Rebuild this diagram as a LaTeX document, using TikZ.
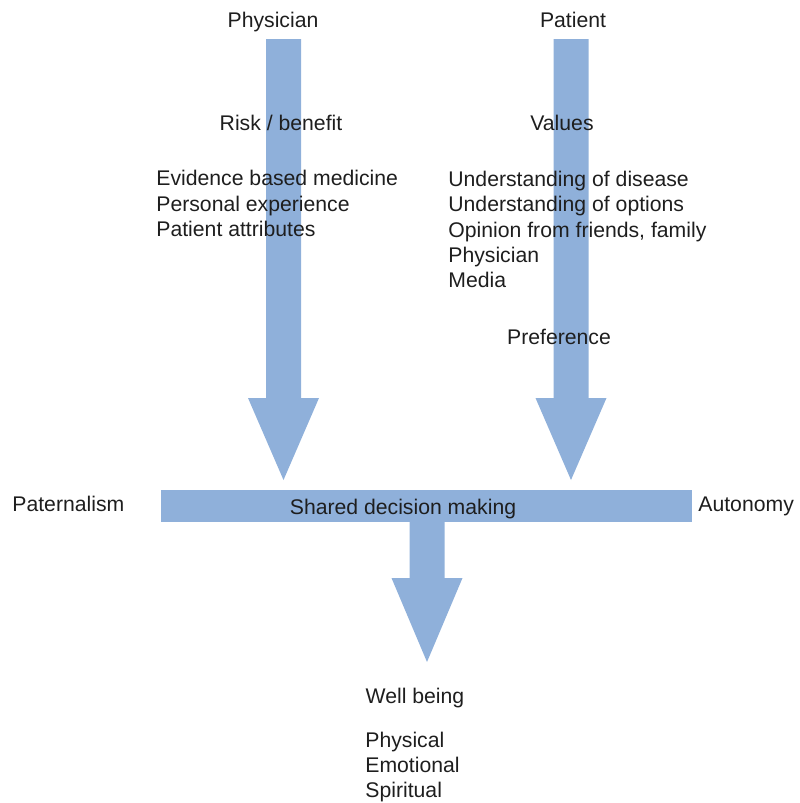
\documentclass[tikz,border=0pt]{standalone}
\usepackage{fontspec}
\setmainfont{Liberation Sans}
\definecolor{arrowblue}{RGB}{143,176,218}
\definecolor{inkgrey}{RGB}{30,30,30}
% block arrow pointing down: centre x, top, head base, tip
\newcommand{\flowarrow}[4]{%
  \fill[flow] (#1-17.5,#2) -- (#1+17.5,#2) -- (#1+17.5,#3) -- (#1+35.5,#3)
    -- (#1,#4) -- (#1-35.5,#3) -- (#1-17.5,#3) -- cycle;}

\begin{document}
\begin{tikzpicture}[x=0.5pt,y=-0.5pt,
	every node/.style={font=\fontsize{10.6}{12.7}\selectfont,text=inkgrey,inner sep=0pt},
	flow/.style={fill=arrowblue,draw=none},
	list/.style={align=left,anchor=west}]
\useasboundingbox (0,0) rectangle (799,803);

	% arrows
	\flowarrow{283.5}{39}{398}{480}
	\flowarrow{571}{39}{398}{480}
	\fill[flow] (161,490) rectangle (692,521.5);
	\flowarrow{427}{515}{578}{662}

	% physician side
	\node (physician) at (273,22) {Physician};
	\node (risk) at (281,123) {Risk / benefit};
	\node [list] (evidence) at (156,203.5) {Evidence based medicine\\Personal experience\\Patient attributes};

	% patient side
	\node (patient) at (573,20) {Patient};
	\node (values) at (562,123) {Values};
	\node [list] (understanding) at (448,229.5) {Understanding of disease\\Understanding of options\\Opinion from friends, family\\Physician\\Media};
	\node (preference) at (559,337) {Preference};

	% decision bar
	\node [anchor=west] (paternalism) at (12,504) {Paternalism};
	\node (shared) at (403,509) {Shared decision making};
	\node [anchor=west] (autonomy) at (698,506) {Autonomy};

	% outcome
	\node (wellbeing) at (415,698) {Well being};
	\node [list] (physical) at (365,767) {Physical\\Emotional\\Spiritual};

\end{tikzpicture}
\end{document}
